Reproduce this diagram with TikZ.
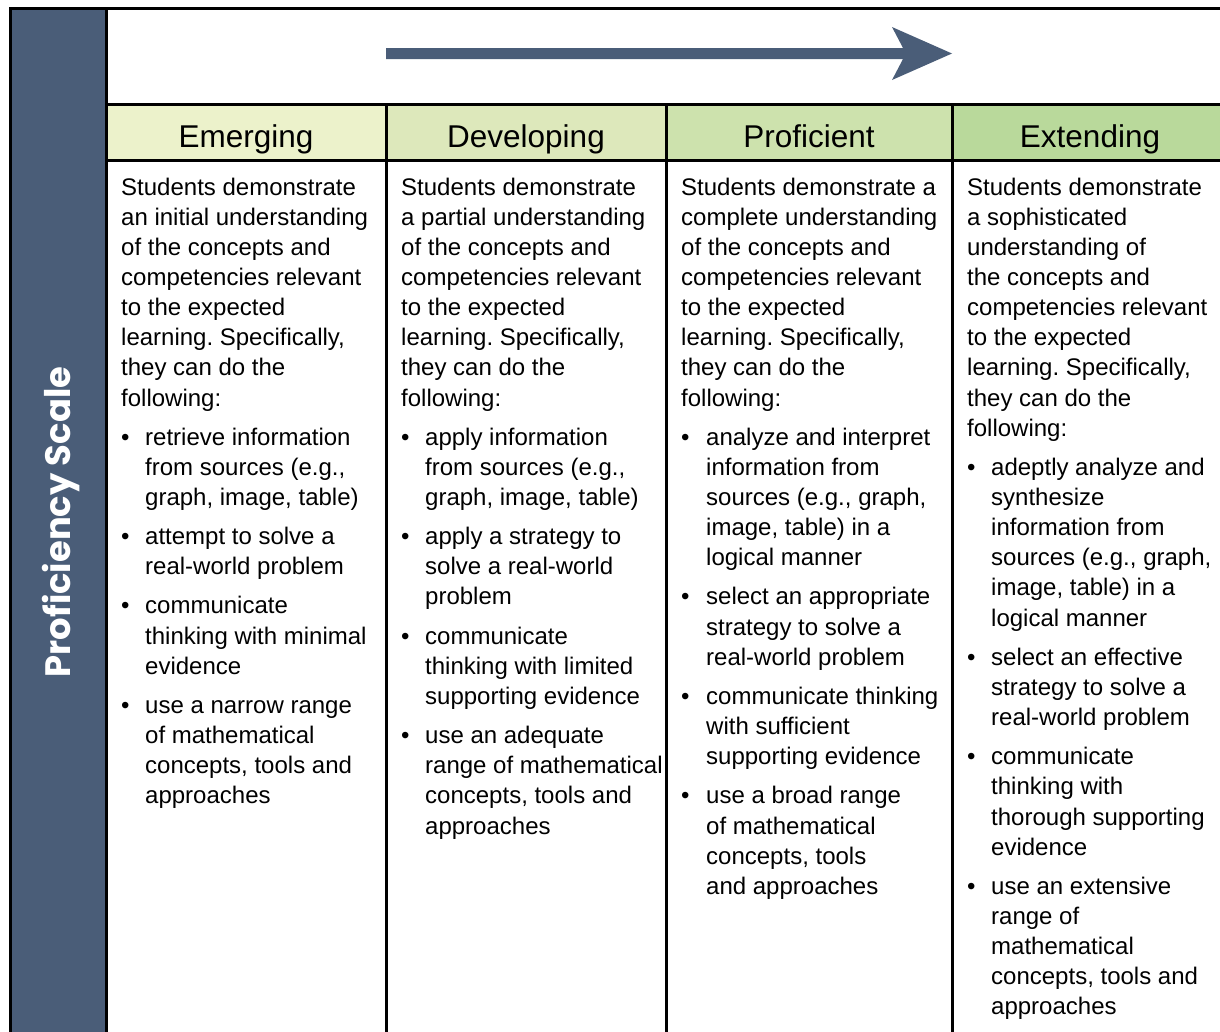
\documentclass[tikz,border=0pt]{standalone}
\usepackage{fontspec}
\setmainfont{Liberation Sans}
\newfontfamily\vfont{Poppins}
\frenchspacing
\definecolor{slate}{HTML}{4A5D78}
\definecolor{cEm}{HTML}{ECF2CB}
\definecolor{cDe}{HTML}{DDE8BB}
\definecolor{cPr}{HTML}{CDE2AD}
\definecolor{cEx}{HTML}{B9D99B}
\begin{document}
\begin{tikzpicture}[x=1pt,y=-1pt,
  rule/.style={line width=3pt,black},
  head/.style={font=\fontsize{31.5}{36}\selectfont,anchor=base,inner sep=0pt},
  body/.style={font=\fontsize{24}{30.15}\selectfont,anchor=base west,align=left,inner sep=0pt},
  bul/.style={font=\fontsize{24}{30.15}\selectfont,anchor=base west,inner sep=0pt}]
\useasboundingbox (0,0) rectangle (1220,1031);
% header fills
\fill[cEm] (106,104) rectangle (386,160);
\fill[cDe] (386,104) rectangle (666,160);
\fill[cPr] (666,104) rectangle (952,160);
\fill[cEx] (952,104) rectangle (1240,160);
% left band
\fill[slate] (10,8) rectangle (106,1040);
% rules
\draw[rule] (10,1040) -- (10,8) -- (1240,8);
\draw[rule] (106,8) -- (106,1040);
\draw[rule] (106,104) -- (1240,104);
\draw[rule] (106,160) -- (1240,160);
\draw[rule] (386,104) -- (386,1040);
\draw[rule] (666,104) -- (666,1040);
\draw[rule] (952,104) -- (952,1040);
% arrow
\fill[slate] (386,48) -- (903,48) -- (892,27) -- (952,53.5) -- (892,80) -- (903,59) -- (386,59) -- cycle;
% vertical label
\node[rotate=90,text=white,font=\vfont\bfseries\fontsize{35.3}{38}\selectfont,inner sep=0pt] (lab) at (61,522) {Proficiency Scale};
% headers
\node[head] (h1) at (246,147) {Emerging};
\node[head] (h2) at (526,147) {Developing};
\node[head] (h3) at (809,147) {Proficient};
\node[head] (h4) at (1090,147) {Extending};
% column 1 (base anchor = last line baseline)
\node[body] (c1i) at (121,406.05) {Students demonstrate\\an initial understanding\\of the concepts and\\competencies relevant\\to the expected\\learning. Specifically,\\they can do the\\following:};
\node[bul] (c1b1) at (121,445.2) {\textbullet};
\node[body] (c1t1) at (145,505.5) {retrieve information\\from sources (e.g.,\\graph, image, table)};
\node[bul] (c1b2) at (121,544.65) {\textbullet};
\node[body] (c1t2) at (145,574.8) {attempt to solve a\\real-world problem};
\node[bul] (c1b3) at (121,613.95) {\textbullet};
\node[body] (c1t3) at (145,674.25) {communicate\\thinking with minimal\\evidence};
\node[bul] (c1b4) at (121,713.4) {\textbullet};
\node[body] (c1t4) at (145,803.85) {use a narrow range\\of mathematical\\concepts, tools and\\approaches};
% column 2
\node[body] (c2i) at (401,406.05) {Students demonstrate\\a partial understanding\\of the concepts and\\competencies relevant\\to the expected\\learning. Specifically,\\they can do the\\following:};
\node[bul] (c2b1) at (401,445.2) {\textbullet};
\node[body] (c2t1) at (425,505.5) {apply information\\from sources (e.g.,\\graph, image, table)};
\node[bul] (c2b2) at (401,544.65) {\textbullet};
\node[body] (c2t2) at (425,604.95) {apply a strategy to\\solve a real-world\\problem};
\node[bul] (c2b3) at (401,644.1) {\textbullet};
\node[body] (c2t3) at (425,704.4) {communicate\\thinking with limited\\supporting evidence};
\node[bul] (c2b4) at (401,743.55) {\textbullet};
\node[body] (c2t4) at (425,834.0) {use an adequate\\range of mathematical\\concepts, tools and\\approaches};
% column 3
\node[body] (c3i) at (681,406.05) {Students demonstrate a\\complete understanding\\of the concepts and\\competencies relevant\\to the expected\\learning. Specifically,\\they can do the\\following:};
\node[bul] (c3b1) at (681,445.2) {\textbullet};
\node[body] (c3t1) at (706,565.8) {analyze and interpret\\information from\\sources (e.g., graph,\\image, table) in a\\logical manner};
\node[bul] (c3b2) at (681,604.95) {\textbullet};
\node[body] (c3t2) at (706,665.25) {select an appropriate\\strategy to solve a\\real-world problem};
\node[bul] (c3b3) at (681,704.4) {\textbullet};
\node[body] (c3t3) at (706,764.7) {communicate thinking\\with sufficient\\supporting evidence};
\node[bul] (c3b4) at (681,803.85) {\textbullet};
\node[body] (c3t4) at (706,894.3) {use a broad range\\of mathematical\\concepts, tools\\and approaches};
% column 4
\node[body] (c4i) at (967,436.2) {Students demonstrate\\a sophisticated\\understanding of\\the concepts and\\competencies relevant\\to the expected\\learning. Specifically,\\they can do the\\following:};
\node[bul] (c4b1) at (967,475.35) {\textbullet};
\node[body] (c4t1) at (991,626.1) {adeptly analyze and\\synthesize\\information from\\sources (e.g., graph,\\image, table) in a\\logical manner};
\node[bul] (c4b2) at (967,665.25) {\textbullet};
\node[body] (c4t2) at (991,725.55) {select an effective\\strategy to solve a\\real-world problem};
\node[bul] (c4b3) at (967,764.7) {\textbullet};
\node[body] (c4t3) at (991,855.15) {communicate\\thinking with\\thorough supporting\\evidence};
\node[bul] (c4b4) at (967,894.3) {\textbullet};
\node[body] (c4t4) at (991,1014.9) {use an extensive\\range of\\mathematical\\concepts, tools and\\approaches};
\end{tikzpicture}
\end{document}
